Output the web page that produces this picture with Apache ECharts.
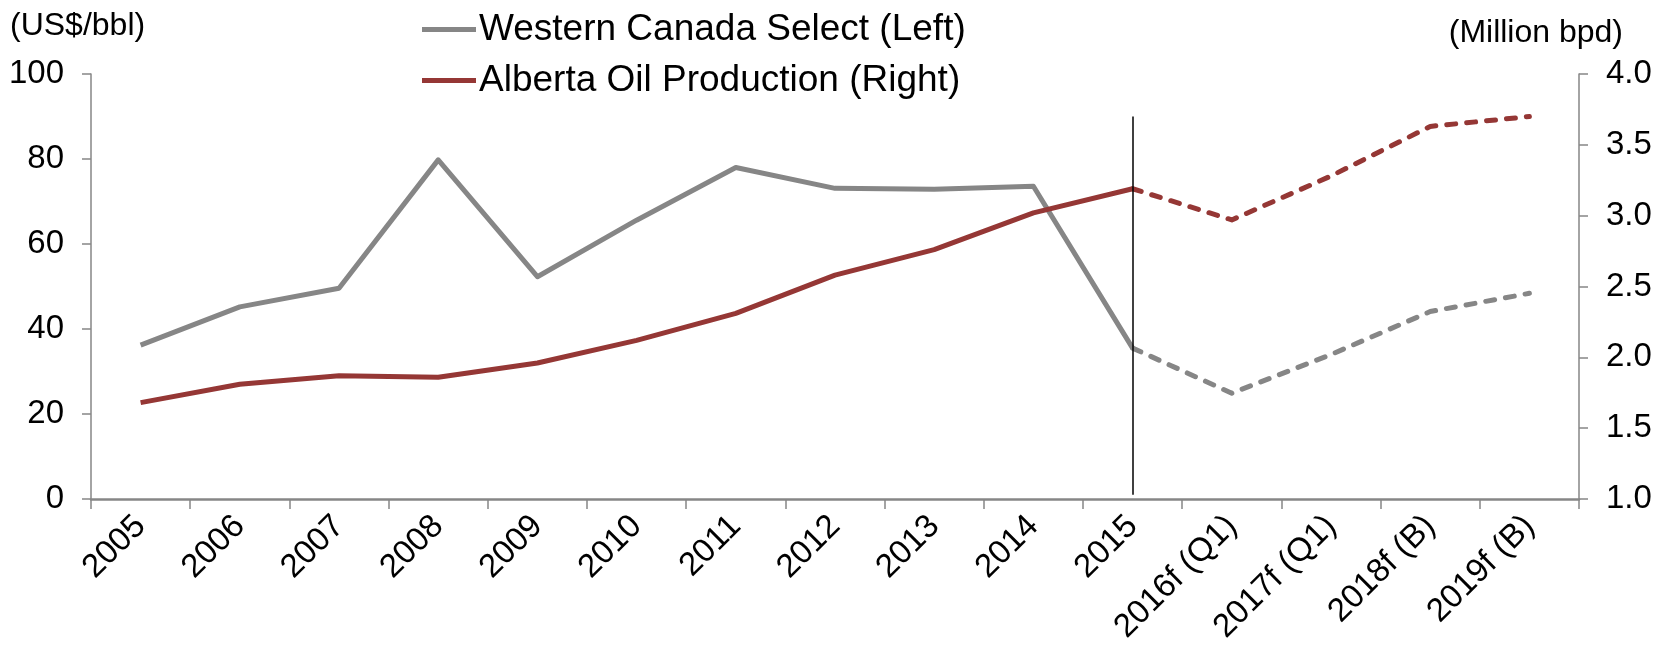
<!DOCTYPE html>
<html>
<head>
<meta charset="utf-8">
<title>WCS vs Alberta Oil Production</title>
<script src="https://cdn.jsdelivr.net/npm/echarts@6/dist/echarts.min.js"></script>
<style>
    html, body { margin: 0; padding: 0; background: #fff; }
    #chart { width: 1667px; height: 648px; }
</style>
</head>
<body>
<div id="chart"></div>
<script>
// 横轴类别
const categories = ['2005', '2006', '2007', '2008', '2009', '2010', '2011', '2012', '2013', '2014',
    '2015', '2016f (Q1)', '2017f (Q1)', '2018f (B)', '2019f (B)'];
// WCS 价格 (US$/bbl)
const wcsPrice = [36.2, 45.2, 49.6, 79.8, 52.3, 65.6, 78.0, 73.1, 72.9, 73.6, 35.5, 24.9, 34.0, 44.1, 48.4];
// Alberta 产量 (Million bpd)
const albertaProd = [1.68, 1.81, 1.87, 1.86, 1.96, 2.12, 2.31, 2.58, 2.76, 3.02, 3.19, 2.97, 3.28, 3.63, 3.70];
const leftTicks = [0, 20, 40, 60, 80, 100];
const rightTicks = [1.0, 1.5, 2.0, 2.5, 3.0, 3.5, 4.0];
// 实绩/预测分界线 (左轴取值范围)
const dividerAt = '2015';
const dividerRange = [1, 90];

const GRAY = '#868686';
const RED = '#953735';
const FONT = 'Liberation Sans, Arial, sans-serif';

// 把序列拆成实线(实绩)和虚线(预测)两段
const splitIdx = categories.indexOf(dividerAt);
const solidPart = arr => arr.map((v, i) => (i <= splitIdx ? v : '-'));
const dashPart = arr => arr.map((v, i) => (i >= splitIdx ? v : '-'));

const lineSeries = (name, data, color, yIdx, dashed) => ({
    name: name,
    type: 'line',
    yAxisIndex: yIdx,
    data: data,
    symbol: 'none',
    silent: true,
    lineStyle: {
        color: color,
        width: 5,
        type: dashed ? [9, 11] : 'solid',
        cap: dashed ? 'round' : 'butt',
        join: 'round'
    },
    itemStyle: { color: color }
});

const option = {
    animation: false,
    textStyle: { fontFamily: FONT },
    grid: { left: 91, right: 88, top: 74, bottom: 149, containLabel: false },
    legend: {
        orient: 'vertical',
        left: 417,
        top: 6,
        itemGap: 14,
        itemWidth: 54,
        itemHeight: 5,
        icon: 'rect',
        data: ['Western Canada Select (Left)', 'Alberta Oil Production (Right)'],
        textStyle: { fontSize: 37, color: '#000', fontFamily: FONT, padding: [0, 0, 0, -2] }
    },
    xAxis: {
        type: 'category',
        data: categories,
        boundaryGap: true,
        axisLine: { lineStyle: { color: GRAY, width: 2.5 } },
        axisTick: { show: true, length: 10, lineStyle: { color: GRAY, width: 1.5 } },
        axisLabel: { rotate: 45, fontSize: 33, color: '#000', margin: 22, interval: 0 },
        splitLine: { show: false }
    },
    yAxis: [
        {
            type: 'value',
            min: 0, max: 100, interval: 20,
            position: 'left',
            axisLine: { show: true, lineStyle: { color: GRAY, width: 1.5 } },
            axisTick: { show: true, inside: false, length: 9, lineStyle: { color: GRAY, width: 1.5 } },
            axisLabel: { fontSize: 33, color: '#000', margin: 27 },
            splitLine: { show: false }
        },
        {
            type: 'value',
            min: 1, max: 4, interval: 0.5,
            position: 'right',
            axisLine: { show: true, lineStyle: { color: GRAY, width: 1.5 } },
            axisTick: { show: true, inside: false, length: 9, lineStyle: { color: GRAY, width: 1.5 } },
            axisLabel: { fontSize: 33, color: '#000', margin: 27, formatter: v => v.toFixed(1) },
            splitLine: { show: false }
        }
    ],
    graphic: [
        { type: 'text', left: 10, top: 10, style: { text: '(US$/bbl)', fontSize: 32, fill: '#000', fontFamily: FONT } },
        { type: 'text', right: 44, top: 17, style: { text: '(Million bpd)', fontSize: 32, fill: '#000', fontFamily: FONT } }
    ],
    series: [
        Object.assign(lineSeries('Western Canada Select (Left)', solidPart(wcsPrice), GRAY, 0, false), {
            markLine: {
                silent: true,
                symbol: 'none',
                label: { show: false },
                lineStyle: { color: '#000', width: 1.5, type: 'solid' },
                data: [[{ coord: [dividerAt, dividerRange[1]] }, { coord: [dividerAt, dividerRange[0]] }]]
            }
        }),
        lineSeries('Western Canada Select (Left)', dashPart(wcsPrice), GRAY, 0, true),
        lineSeries('Alberta Oil Production (Right)', solidPart(albertaProd), RED, 1, false),
        lineSeries('Alberta Oil Production (Right)', dashPart(albertaProd), RED, 1, true)
    ]
};

const myChart = echarts.init(document.getElementById('chart'));
myChart.setOption(option);
window.addEventListener('resize', () => {
    myChart.resize();
});
</script>
</body>
</html>
